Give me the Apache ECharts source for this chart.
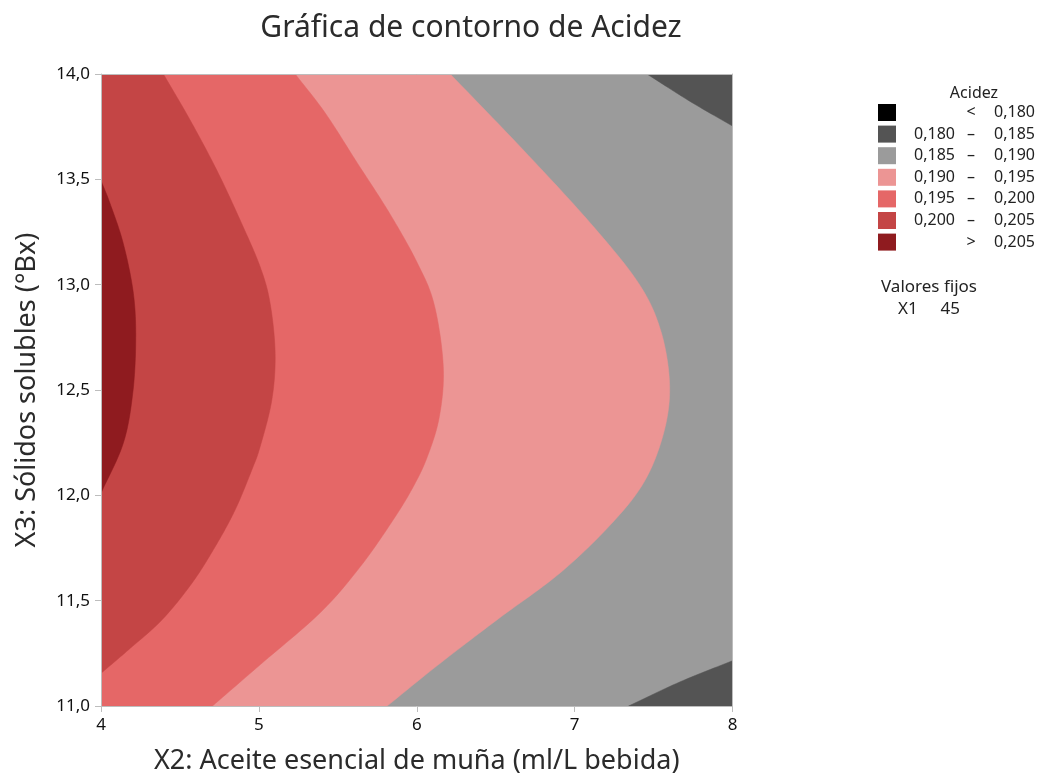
<!DOCTYPE html>
<html>
<head>
<meta charset="utf-8">
<script src="https://cdn.jsdelivr.net/npm/echarts@6/dist/echarts.min.js"></script>
<style>html,body{margin:0;padding:0;background:#fff;overflow:hidden}#chart{width:1045px;height:776px}</style>
</head>
<body>
<div id="chart"></div>
<script>
// ---- Data ----
const titleText = 'Gráfica de contorno de Acidez';
const xName = 'X2: Aceite esencial de muña (ml/L bebida)';
const yName = 'X3: Sólidos solubles (°Bx)';
const xTicks = [4, 5, 6, 7, 8];
const yTicks = [11, 11.5, 12, 12.5, 13, 13.5, 14];

// contour boundaries [X2, X3]
const c205 = [[4.000,13.494],[4.057,13.386],[4.141,13.196],[4.205,12.959],[4.220,12.737],[4.201,12.484],[4.141,12.247],[4.000,12.010]];
const c200 = [[4.395,14.000],[4.564,13.782],[4.733,13.544],[4.881,13.307],[5.008,13.085],[5.071,12.912],[5.103,12.674],[5.082,12.453],[5.008,12.231],[4.955,12.120],[4.849,11.930],[4.723,11.756],[4.575,11.582],[4.385,11.408],[4.173,11.266],[4.000,11.155]];
const c195 = [[5.230,14.000],[5.420,13.815],[5.623,13.578],[5.826,13.341],[6.003,13.104],[6.111,12.904],[6.168,12.610],[6.143,12.373],[6.067,12.183],[5.978,12.041],[5.852,11.885],[5.643,11.662],[5.390,11.444],[5.010,11.197],[4.706,11.000]];
const c190 = [[6.212,14.000],[6.675,13.639],[7.100,13.292],[7.404,13.008],[7.544,12.785],[7.601,12.534],[7.569,12.311],[7.448,12.074],[7.239,11.870],[6.910,11.633],[6.510,11.410],[6.130,11.192],[5.813,11.000]];
const c185Top = [[7.458,14.000],[7.731,13.870],[8.000,13.753]];
const c185Bottom = [[7.342,11.000],[7.669,11.115],[8.000,11.215]];

const legendTitle = 'Acidez';
const legendLow = ['', '0,180', '0,185', '0,190', '0,195', '0,200', ''];
const legendSep = ['<', '–', '–', '–', '–', '–', '>'];
const legendHigh = ['0,180', '0,185', '0,190', '0,195', '0,200', '0,205', '0,205'];
const legendColors = ['#000000', '#545454', '#9b9b9b', '#ec9594', '#e56767', '#c44545', '#8f1b1f'];
const fixedTitle = 'Valores fijos';
const fixedVar = 'X1';
const fixedVal = '45';

// regions drawn bottom to top
const regions = [
  {before: [[4,11],[4,14],[8,14],[8,11]], curve: [], after: [], color: legendColors[2]},
  {before: [[4,11],[4,14]], curve: c190, after: [], color: legendColors[3]},
  {before: [[4,11],[4,14]], curve: c195, after: [], color: legendColors[4]},
  {before: [[4,14]], curve: c200, after: [], color: legendColors[5]},
  {before: [], curve: c205, after: [], color: legendColors[6]},
  {before: [], curve: c185Top, after: [[8,14]], color: legendColors[1]},
  {before: [], curve: c185Bottom, after: [[8,11]], color: legendColors[1]}
];

function catmull(pts) {
  if (pts.length < 3) return pts.slice();
  const out = [];
  const n = pts.length;
  for (let i = 0; i < n - 1; i++) {
    const p0 = i > 0 ? pts[i - 1] : [2 * pts[0][0] - pts[1][0], 2 * pts[0][1] - pts[1][1]];
    const p1 = pts[i], p2 = pts[i + 1];
    const p3 = i + 2 < n ? pts[i + 2] : [2 * pts[n - 1][0] - pts[n - 2][0], 2 * pts[n - 1][1] - pts[n - 2][1]];
    const steps = 14;
    for (let s = 0; s < steps; s++) {
      const t = s / steps, t2 = t * t, t3 = t2 * t;
      const x = 0.5 * ((2 * p1[0]) + (-p0[0] + p2[0]) * t + (2 * p0[0] - 5 * p1[0] + 4 * p2[0] - p3[0]) * t2 + (-p0[0] + 3 * p1[0] - 3 * p2[0] + p3[0]) * t3);
      const y = 0.5 * ((2 * p1[1]) + (-p0[1] + p2[1]) * t + (2 * p0[1] - 5 * p1[1] + 4 * p2[1] - p3[1]) * t2 + (-p0[1] + 3 * p1[1] - 3 * p2[1] + p3[1]) * t3);
      out.push([x, y]);
    }
  }
  out.push(pts[n - 1]);
  return out;
}

const fmt = v => v.toFixed(1).replace('.', ',');
const axisGray = '#bdbdbd';
const FONT = '"Noto Sans", "Open Sans", sans-serif';

const series = regions.map((r, idx) => ({
  type: 'custom',
  coordinateSystem: 'cartesian2d',
  clip: true,
  silent: true,
  z: 2 + idx,
  data: [[4, 11]],
  renderItem: function (params, api) {
    const before = r.before.map(p => api.coord(p));
    const curve = catmull(r.curve.map(p => api.coord(p)));
    const after = r.after.map(p => api.coord(p));
    return {
      type: 'polygon',
      shape: {points: before.concat(curve, after)},
      style: {fill: r.color, stroke: r.color, lineWidth: 0.5}
    };
  }
}));

const graphics = [
  {type: 'text', x: 471, y: 28, style: {text: titleText, font: '30px ' + FONT, fill: '#2b2b2b', textAlign: 'center', textVerticalAlign: 'middle'}},
  {type: 'text', x: 974, y: 93, style: {text: legendTitle, font: '16px ' + FONT, fill: '#222', textAlign: 'center', textVerticalAlign: 'middle'}}
];
legendColors.forEach((c, i) => {
  const cy = 112.5 + i * 21.6;
  graphics.push({type: 'rect', shape: {x: 878, y: cy - 8.5, width: 18, height: 17}, style: {fill: c}});
  if (legendLow[i]) graphics.push({type: 'text', x: 955, y: cy, style: {text: legendLow[i], font: '16px ' + FONT, fill: '#222', textAlign: 'right', textVerticalAlign: 'middle'}});
  graphics.push({type: 'text', x: 971, y: cy, style: {text: legendSep[i], font: '16px ' + FONT, fill: '#222', textAlign: 'center', textVerticalAlign: 'middle'}});
  graphics.push({type: 'text', x: 1035, y: cy, style: {text: legendHigh[i], font: '16px ' + FONT, fill: '#222', textAlign: 'right', textVerticalAlign: 'middle'}});
});
graphics.push({type: 'text', x: 881, y: 287, style: {text: fixedTitle, font: '17px ' + FONT, fill: '#222', textAlign: 'left', textVerticalAlign: 'middle'}});
graphics.push({type: 'text', x: 898, y: 309, style: {text: fixedVar, font: '17px ' + FONT, fill: '#222', textAlign: 'left', textVerticalAlign: 'middle'}});
graphics.push({type: 'text', x: 960, y: 309, style: {text: fixedVal, font: '17px ' + FONT, fill: '#222', textAlign: 'right', textVerticalAlign: 'middle'}});

const chart = echarts.init(document.getElementById('chart'), null, {renderer: 'canvas'});
chart.setOption({
  animation: false,
  backgroundColor: '#fff',
  textStyle: {fontFamily: FONT},
  grid: {left: 101, right: 312.5, top: 74, bottom: 70, containLabel: false, outerBoundsMode: 'none'},
  xAxis: [{
    type: 'value', min: xTicks[0], max: xTicks[xTicks.length - 1], interval: 1, z: 20,
    axisLine: {show: true, onZero: false, lineStyle: {color: axisGray, width: 1}},
    axisTick: {show: true, length: 6, lineStyle: {color: axisGray}},
    axisLabel: {color: '#111', fontSize: 17, margin: 11, fontFamily: FONT},
    splitLine: {show: false},
    name: xName, nameLocation: 'middle', nameGap: 42,
    nameTextStyle: {fontSize: 27, color: '#2b2b2b', fontFamily: FONT}
  }, {
    type: 'value', position: 'top', min: 4, max: 8, z: 20,
    axisLine: {show: true, onZero: false, lineStyle: {color: axisGray}},
    axisTick: {show: false}, axisLabel: {show: false}, splitLine: {show: false}
  }],
  yAxis: [{
    type: 'value', min: yTicks[0], max: yTicks[yTicks.length - 1], interval: 0.5, z: 20,
    axisLine: {show: true, onZero: false, lineStyle: {color: axisGray, width: 1}},
    axisTick: {show: true, length: 6, lineStyle: {color: axisGray}},
    axisLabel: {color: '#111', fontSize: 17, margin: 11, formatter: fmt, fontFamily: FONT},
    splitLine: {show: false},
    name: yName, nameLocation: 'middle', nameGap: 60,
    nameTextStyle: {fontSize: 27, color: '#2b2b2b', fontFamily: FONT}
  }, {
    type: 'value', position: 'right', min: 11, max: 14, z: 20,
    axisLine: {show: true, onZero: false, lineStyle: {color: axisGray}},
    axisTick: {show: false}, axisLabel: {show: false}, splitLine: {show: false}
  }],
  graphic: graphics,
  series: series
});
</script>
</body>
</html>
